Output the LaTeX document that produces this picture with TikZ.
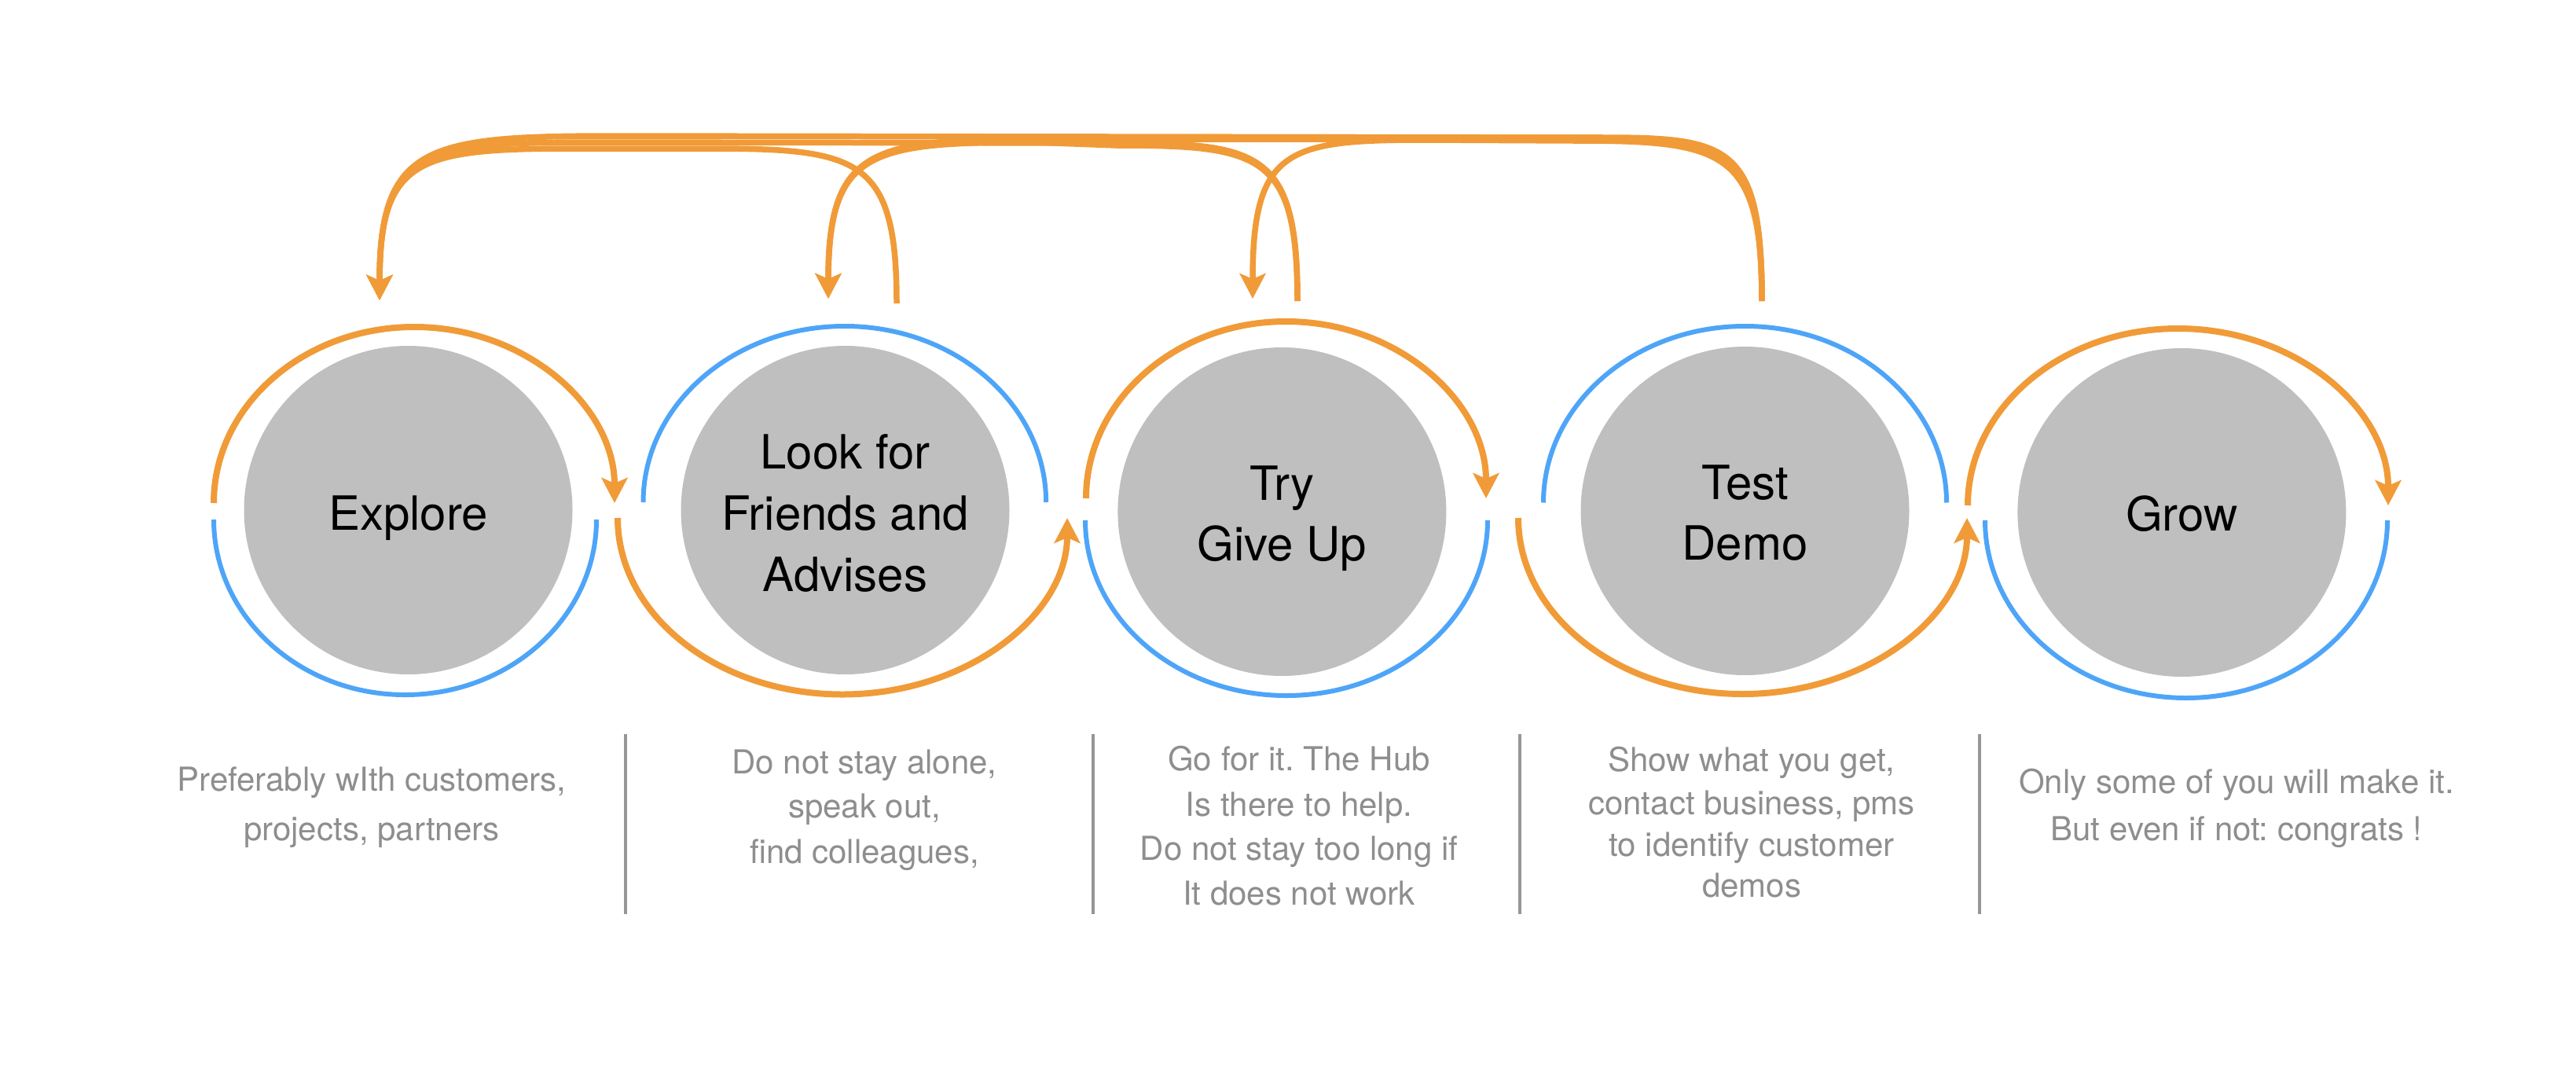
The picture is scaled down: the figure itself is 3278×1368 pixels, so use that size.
\documentclass[tikz,border=0pt]{standalone}
\usepackage{fontspec}
\setmainfont{TeX Gyre Heros}
\usetikzlibrary{arrows.meta}
\definecolor{ora}{RGB}{240,155,56}
\definecolor{blu}{RGB}{78,165,248}
\definecolor{discgray}{RGB}{191,191,191}
\definecolor{notegray}{RGB}{142,142,142}
\definecolor{sepgray}{RGB}{150,150,150}
\frenchspacing
\begin{document}
\begin{tikzpicture}[x=1pt,y=-1pt,
  tipend/.style={-{Stealth[length=32pt,width=33pt,inset=7pt]}},
  orarc/.style={draw=ora,line width=8pt},
  bluarc/.style={draw=blu,line width=6pt},
  conn/.style={draw=ora,line width=7.5pt,tipend},
  disc/.style={circle,fill=discgray,minimum size=418pt,inner sep=0pt},
  lab/.style={anchor=base,font=\fontsize{60}{72}\selectfont,text=black,inner sep=0pt},
  note/.style={anchor=base,font=\fontsize{42}{50}\selectfont\frenchspacing,text=notegray,inner sep=0pt},
  sepline/.style={draw=sepgray,line width=4pt}]
\useasboundingbox (0,0) rectangle (3278,1368);

% discs
\node[disc] (explore) at (519.5,649) {};
\node[disc] (look) at (1075.5,649) {};
\node[disc] (try) at (1631.4,651) {};
\node[disc] (test) at (2220.5,650) {};
\node[disc] (grow) at (2776.4,652) {};

% labels
\node[lab] (lexp) at (519.5,674) {Explore};
\node[lab] (llook1) at (1075.5,596) {Look for};
\node[lab] (llook2) at (1075.5,674) {Friends and};
\node[lab] (llook3) at (1075.5,752) {Advises};
\node[lab] (ltry1) at (1631.4,636) {Try};
\node[lab] (ltry2) at (1631.4,713) {Give Up};
\node[lab] (ltest1) at (2220.5,635) {Test};
\node[lab] (ltest2) at (2220.5,712) {Demo};
\node[lab] (lgrow) at (2776.4,675) {Grow};

% ring arcs
\coordinate (expTop) at (272,640);
\coordinate (expBot) at (272,661);
\coordinate (lookTop) at (818.5,639);
\coordinate (lookBot) at (786,659);
\coordinate (tryTop) at (1382,634);
\coordinate (tryBot) at (1381,662);
\coordinate (testTop) at (1964,639.5);
\coordinate (testBot) at (1932,659);
\coordinate (growTop) at (2504,643);
\coordinate (growBot) at (2526,662);

\draw[orarc,tipend] (expTop) arc[start angle=180,end angle=360,x radius=255,y radius=224];
\draw[bluarc] (expBot) arc[start angle=180,end angle=0,x radius=243.5,y radius=223];
\draw[bluarc] (lookTop) arc[start angle=180,end angle=360,x radius=256.3,y radius=224];
\draw[orarc,tipend] (lookBot) arc[start angle=180,end angle=0,x radius=286,y radius=224.5];
\draw[orarc,tipend] (tryTop) arc[start angle=180,end angle=360,x radius=254.5,y radius=225];
\draw[bluarc] (tryBot) arc[start angle=180,end angle=0,x radius=256,y radius=223];
\draw[bluarc] (testTop) arc[start angle=180,end angle=360,x radius=256.5,y radius=224.5];
\draw[orarc,tipend] (testBot) arc[start angle=180,end angle=0,x radius=285.5,y radius=224];
\draw[orarc,tipend] (growTop) arc[start angle=180,end angle=360,x radius=267.5,y radius=225];
\draw[bluarc] (growBot) arc[start angle=180,end angle=0,x radius=256,y radius=226];

% top feedback connectors
\coordinate (lookS) at (1141,386);
\coordinate (tryS) at (1651,383);
\coordinate (testS) at (2242,383);
\coordinate (exploreIn) at (483,382);
\coordinate (lookIn) at (1054,380);
\coordinate (tryIn) at (1594,380);

\draw[conn] (lookS) .. controls +(0,-186) and +(192.8,0) .. (900,189)
  -- (733,189) .. controls +(-200,0) and +(0,-182) .. (exploreIn);
\draw[conn] (tryS) .. controls +(0,-190) and +(184,0) .. (1421,182)
  -- (753,181) .. controls +(-216,0) and +(0,-190) .. (exploreIn);
\draw[conn] (testS) .. controls +(0,-197) and +(160,0) .. (2042,175)
  -- (783,173) .. controls +(-240,0) and +(0,-198) .. (exploreIn);
\draw[conn] (tryS) .. controls +(0,-187) and +(184,0) .. (1421,185)
  -- (1314,181) .. controls +(-208,0) and +(0,-188) .. (lookIn);
\draw[conn] (testS) .. controls +(0,-195) and +(176,0) .. (2022,177)
  -- (1324,177) .. controls +(-216,0) and +(0,-192) .. (lookIn);
\draw[conn] (testS) .. controls +(0,-193) and +(192,0) .. (2002,179)
  -- (1814,178) .. controls +(-176,0) and +(0,-191) .. (tryIn);

% separators
\coordinate (s1t) at (796,934);   \coordinate (s1b) at (796,1163);
\coordinate (s2t) at (1391,934);  \coordinate (s2b) at (1391,1163);
\coordinate (s3t) at (1934,934);  \coordinate (s3b) at (1934,1163);
\coordinate (s4t) at (2519,934);  \coordinate (s4b) at (2519,1163);
\draw[sepline] (s1t) -- (s1b);
\draw[sepline] (s2t) -- (s2b);
\draw[sepline] (s3t) -- (s3b);
\draw[sepline] (s4t) -- (s4b);

% notes
\node[note] (n11) at (473,1006) {Preferably wIth customers,};
\node[note] (n12) at (473,1069) {projects, partners};
\node[note] (n21) at (1100,984) {Do not stay alone,};
\node[note] (n22) at (1100,1040) {speak out,};
\node[note] (n23) at (1100,1098) {find colleagues,};
\node[note] (n31) at (1653,980) {Go for it. The Hub};
\node[note] (n32) at (1653,1038) {Is there to help.};
\node[note] (n33) at (1653,1094) {Do not stay too long if};
\node[note] (n34) at (1653,1151) {It does not work};
\node[note] (n41) at (2229,981) {Show what you get,};
\node[note] (n42) at (2229,1036) {contact business, pms};
\node[note] (n43) at (2229,1089) {to identify customer};
\node[note] (n44) at (2229,1141) {demos};
\node[note] (n51) at (2846,1009) {Only some of you will make it.};
\node[note] (n52) at (2846,1069) {But even if not: congrats !};
\end{tikzpicture}
\end{document}
